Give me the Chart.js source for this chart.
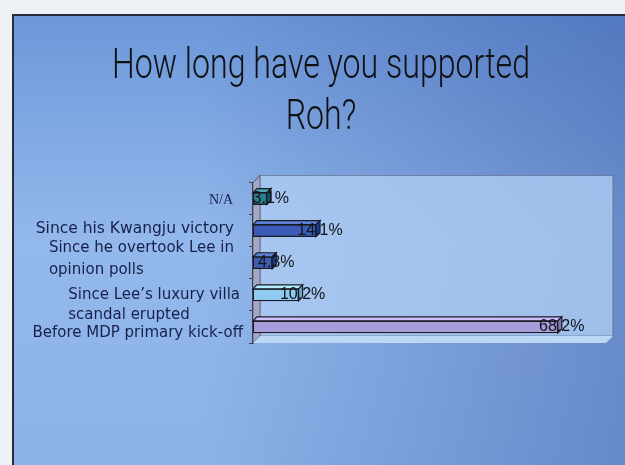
<!DOCTYPE html>
<html>
<head>
<meta charset="utf-8">
<script src="https://cdn.jsdelivr.net/npm/chart.js@4.4.1/dist/chart.umd.min.js"></script>
<style>
  html, body { margin: 0; padding: 0; background: #eef1f6; }
  #wrap { width: 625px; height: 465px; }
</style>
</head>
<body>
<div id="wrap"><canvas id="supportChart" width="625" height="465"></canvas></div>
<script>
// survey answers, top to bottom
const categories = [
    ['N/A'],
    ['Since his Kwangju victory'],
    ['Since he overtook Lee in', 'opinion polls'],
    ['Since Lee\u2019s luxury villa', 'scandal erupted'],
    ['Before MDP primary kick-off']
];
const shares = [3.1, 14.1, 4.3, 10.2, 68.2];
const axisMax = 79;
const titleLines = ['How long have you supported', 'Roh?'];

// look
const barColors = ['#2c7f8d', '#3a5cb6', '#3c5eb3', '#8fcbf1', '#a99cdb'];
const labelFonts = ['14px "Liberation Serif"', '15.5px "DejaVu Sans"', '15px "DejaVu Sans"', '15px "DejaVu Sans"', '15px "DejaVu Sans"'];
const labelRight = [233, 234, 234, 240, 243];
const labelShift = [2, -2, -4, 10, 6];
const labelLineH = [21, 21, 22, 20, 21];
const WALL_DEPTH = 7;
const BAR_DEPTH = 4;
const TITLE_WIDTH = 418;

function shade(hex, amt) {
    const n = parseInt(hex.slice(1), 16);
    const f = c => Math.max(0, Math.min(255, Math.round(c + amt)));
    return `rgb(${f(n >> 16)}, ${f((n >> 8) & 255)}, ${f(n & 255)})`;
}

function poly(ctx, pts, fill, stroke) {
    ctx.beginPath();
    ctx.moveTo(pts[0][0], pts[0][1]);
    for (let i = 1; i < pts.length; i++) ctx.lineTo(pts[i][0], pts[i][1]);
    ctx.closePath();
    ctx.fillStyle = fill;
    ctx.fill();
    if (stroke) {
        ctx.strokeStyle = stroke;
        ctx.lineWidth = 1.2;
        ctx.stroke();
    }
}

// slide background with its frame, and the slide title
const backdrop = {
    id: 'backdrop',
    beforeDraw(chart) {
        const ctx = chart.ctx;
        const w = chart.width, h = chart.height;
        ctx.save();
        ctx.fillStyle = '#eef1f6';
        ctx.fillRect(0, 0, w, h);
        const g = ctx.createLinearGradient(0, 14, 0, h);
        g.addColorStop(0, '#6c97d9');
        g.addColorStop(0.5, '#93b8ec');
        g.addColorStop(1, '#8cb2e8');
        ctx.fillStyle = g;
        ctx.fillRect(12, 14, w - 12, h - 14);
        const s = ctx.createLinearGradient(200, 0, w, 0);
        s.addColorStop(0, 'rgba(40, 70, 150, 0)');
        s.addColorStop(1, 'rgba(40, 70, 150, 0.38)');
        ctx.fillStyle = s;
        ctx.fillRect(12, 14, w - 12, h - 14);
        ctx.strokeStyle = '#2a2b38';
        ctx.lineWidth = 2;
        ctx.beginPath();
        ctx.moveTo(13, h);
        ctx.lineTo(13, 15);
        ctx.lineTo(w, 15);
        ctx.stroke();

        // condensed title, squeezed to the slide's title width
        ctx.fillStyle = '#101114';
        ctx.font = '300 43px Roboto';
        ctx.textAlign = 'center';
        ctx.textBaseline = 'alphabetic';
        const squeeze = TITLE_WIDTH / ctx.measureText(titleLines[0]).width;
        titleLines.forEach((t, i) => {
            ctx.save();
            ctx.translate(321, 78 + i * 51);
            ctx.scale(squeeze, 1);
            ctx.fillText(t, 0, 0);
            ctx.restore();
        });
        ctx.restore();
    }
};

// back wall, side wall and floor of the 3-D plot box
const plotBox = {
    id: 'plotBox',
    beforeDatasetsDraw(chart) {
        const { ctx, chartArea: a } = chart;
        const d = WALL_DEPTH;
        ctx.save();
        poly(ctx, [[a.left + d, a.top - d], [a.right + d, a.top - d], [a.right + d, a.bottom - d], [a.left + d, a.bottom - d]],
            'rgba(172, 204, 243, 0.8)', 'rgba(90, 100, 130, 0.6)');
        poly(ctx, [[a.left, a.top], [a.left + d, a.top - d], [a.left + d, a.bottom - d], [a.left, a.bottom]],
            '#a4a6c6', 'rgba(70, 70, 90, 0.5)');
        poly(ctx, [[a.left, a.bottom], [a.left + d, a.bottom - d], [a.right + d, a.bottom - d], [a.right, a.bottom]],
            '#bcd6f5', null);
        ctx.restore();
    }
};

// bar tops and ends, value labels, category labels
const barDepth = {
    id: 'barDepth',
    afterDatasetsDraw(chart) {
        const ctx = chart.ctx;
        const d = BAR_DEPTH;
        const meta = chart.getDatasetMeta(0);
        ctx.save();
        meta.data.forEach((bar, i) => {
            const p = bar.getProps(['x', 'y', 'base', 'height'], true);
            const x0 = p.base, x1 = p.x;
            const top = p.y - p.height / 2, bot = p.y + p.height / 2;
            poly(ctx, [[x0, top], [x0 + d, top - d], [x1 + d, top - d], [x1, top]], shade(barColors[i], 35), '#1a1a22');
            poly(ctx, [[x1, top], [x1 + d, top - d], [x1 + d, bot - d], [x1, bot]], shade(barColors[i], -35), '#1a1a22');
        });
        ctx.font = '16px "Liberation Sans"';
        ctx.fillStyle = '#121418';
        ctx.textAlign = 'center';
        ctx.textBaseline = 'middle';
        meta.data.forEach((bar, i) => {
            const p = bar.getProps(['x', 'y'], true);
            ctx.fillText(shares[i].toFixed(1) + '%', p.x + d, p.y);
        });
        const yScale = chart.scales.y;
        ctx.textAlign = 'left';
        ctx.fillStyle = '#17204a';
        categories.forEach((lines, i) => {
            ctx.font = labelFonts[i];
            const maxW = Math.max(...lines.map(l => ctx.measureText(l).width));
            const left = labelRight[i] - maxW;
            const yc = yScale.getPixelForValue(i) + labelShift[i];
            lines.forEach((l, j) => {
                ctx.fillText(l, left, yc + (j - (lines.length - 1) / 2) * labelLineH[i]);
            });
        });
        ctx.restore();
    }
};

new Chart(document.getElementById('supportChart'), {
    type: 'bar',
    data: {
        labels: categories.map(c => c.join(' ')),
        datasets: [{
            data: shares,
            backgroundColor: barColors,
            borderColor: '#1a1a22',
            borderWidth: 1.3,
            borderSkipped: false,
            barThickness: 12
        }]
    },
    options: {
        indexAxis: 'y',
        responsive: false,
        animation: false,
        devicePixelRatio: 1,
        layout: {
            padding: { top: 182.5, left: 247, right: 19, bottom: 122 }
        },
        plugins: {
            legend: { display: false },
            tooltip: { enabled: false },
            title: { display: false }
        },
        scales: {
            x: {
                display: false,
                min: 0,
                max: axisMax
            },
            y: {
                display: true,
                afterFit(scale) { scale.width = 6; },
                ticks: { display: false },
                grid: {
                    offset: true,
                    drawOnChartArea: false,
                    drawTicks: true,
                    tickLength: 4,
                    color: '#444'
                },
                border: { display: true, color: '#3a3a46', width: 1.5 }
            }
        }
    },
    plugins: [backdrop, plotBox, barDepth]
});
</script>
</body>
</html>
